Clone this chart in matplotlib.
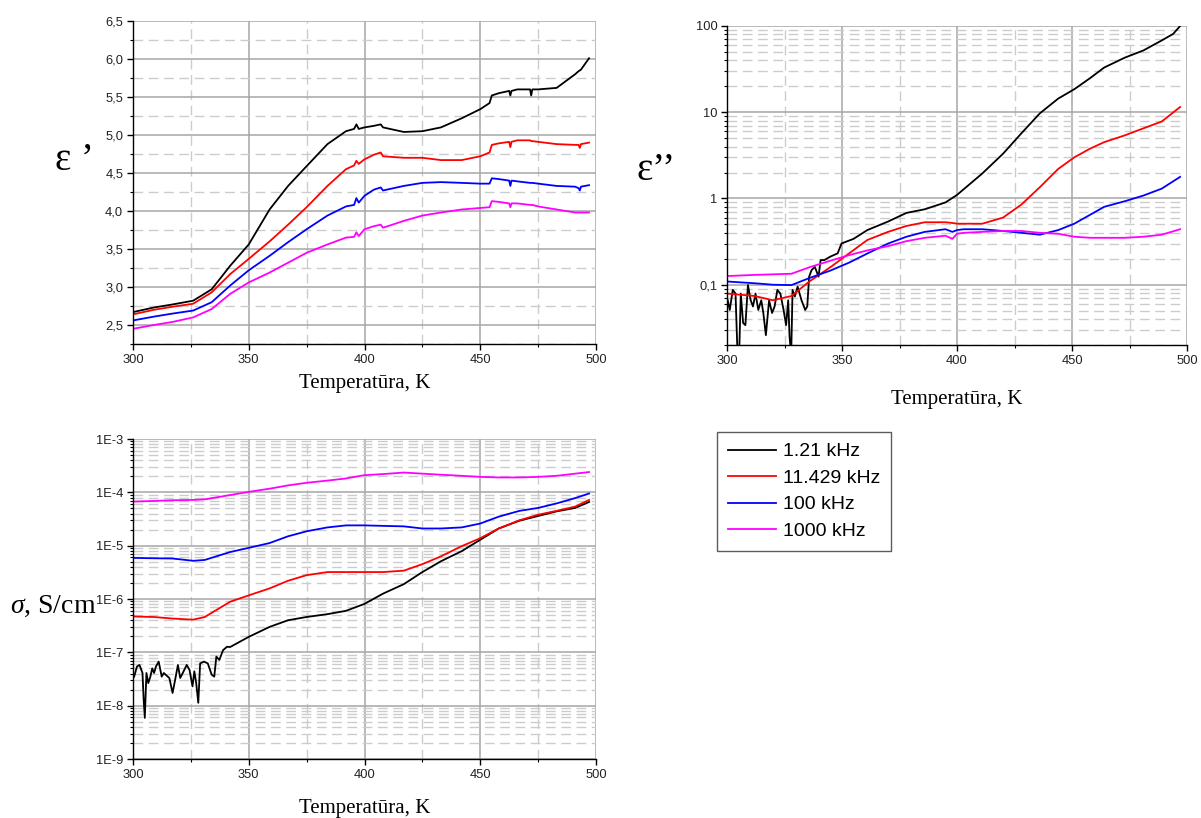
import numpy as np
import matplotlib
matplotlib.use("Agg")
import matplotlib.pyplot as plt
from matplotlib.ticker import MultipleLocator, LogLocator, NullFormatter

plt.rcParams["mathtext.fontset"] = "custom"
plt.rcParams["mathtext.it"] = "Liberation Serif:italic"
plt.rcParams["mathtext.rm"] = "Liberation Serif"

# ---------------- data ----------------
labels = ["1.21 kHz", "11.429 kHz", "100 kHz", "1000 kHz"]
colors = ["#000000", "#ff0000", "#0000ff", "#ff00ff"]

# Panel 1: eps'
T1 = [300, 309, 317, 326, 334, 342, 350, 359, 367, 375, 384, 392, 395.5, 396.5, 397.5, 400, 404, 407, 408,
      417, 425, 433, 442, 450, 454, 455, 458, 462.5, 463, 463.5, 466, 471.5, 472, 472.5, 475, 483, 491,
      492.5, 493, 493.5, 497]
eps1_black = [2.67, 2.73, 2.77, 2.82, 2.97, 3.28, 3.56, 4.02, 4.33, 4.59, 4.88, 5.05, 5.08, 5.14, 5.08, 5.10,
              5.12, 5.14, 5.10, 5.04, 5.05, 5.10, 5.22, 5.34, 5.42, 5.52, 5.55, 5.58, 5.52, 5.58, 5.60, 5.60,
              5.52, 5.60, 5.60, 5.62, 5.80, 5.84, 5.85, 5.86, 6.01]
eps1_red = [2.64, 2.70, 2.74, 2.78, 2.93, 3.17, 3.37, 3.60, 3.82, 4.05, 4.33, 4.55, 4.60, 4.66, 4.62, 4.68,
            4.74, 4.77, 4.72, 4.70, 4.70, 4.67, 4.67, 4.72, 4.77, 4.87, 4.89, 4.91, 4.84, 4.91, 4.93, 4.93,
            4.92, 4.92, 4.91, 4.88, 4.87, 4.87, 4.83, 4.88, 4.90]
eps1_blue = [2.56, 2.61, 2.65, 2.69, 2.80, 3.02, 3.22, 3.41, 3.59, 3.76, 3.94, 4.06, 4.08, 4.17, 4.11, 4.20,
             4.28, 4.31, 4.27, 4.33, 4.37, 4.38, 4.37, 4.36, 4.36, 4.43, 4.42, 4.40, 4.33, 4.40, 4.39, 4.37,
             4.37, 4.37, 4.36, 4.33, 4.32, 4.30, 4.27, 4.32, 4.34]
eps1_mag = [2.45, 2.50, 2.54, 2.60, 2.71, 2.91, 3.06, 3.19, 3.32, 3.45, 3.56, 3.65, 3.66, 3.72, 3.67, 3.76,
            3.80, 3.82, 3.78, 3.87, 3.94, 3.98, 4.02, 4.04, 4.05, 4.13, 4.12, 4.10, 4.05, 4.10, 4.10, 4.08,
            4.08, 4.08, 4.06, 4.02, 3.98, 3.98, 3.98, 3.98, 3.98]

# Panel 2: eps''
T2_black = [300.3, 301.2, 302.5, 303.7, 304.6, 305.3, 306.0, 307.0, 308.0, 309.1, 310.3, 311.3, 312.4, 313.6,
            314.9, 315.8, 316.9, 318.3, 319.6, 320.7, 321.9, 323.2, 324.6, 325.7, 326.6, 327.2, 327.9, 328.5,
            329.5, 330.7, 332.4, 334.0, 334.9, 335.7, 336.8, 338.2, 339.8, 340.7, 342.3, 344.8, 348.1, 349.8,
            355, 361, 370, 378, 386, 395, 400, 411, 420, 428, 436, 444, 451, 458, 464, 473, 481, 489, 494, 497]
eps2_black = [0.066, 0.051, 0.087, 0.079, 0.015, 0.016, 0.079, 0.036, 0.034, 0.099, 0.066, 0.056, 0.079, 0.051,
              0.066, 0.047, 0.026, 0.066, 0.047, 0.056, 0.087, 0.079, 0.051, 0.034, 0.066, 0.025, 0.015, 0.087,
              0.073, 0.095, 0.066, 0.051, 0.056, 0.124, 0.148, 0.161, 0.124, 0.193, 0.193, 0.211, 0.231, 0.301,
              0.34, 0.43, 0.54, 0.68, 0.75, 0.90, 1.1, 1.95, 3.3, 5.7, 9.7, 14.4, 18.5, 25, 33, 43, 52, 68, 81, 100]
T2 = [300, 312, 320, 328, 336, 345, 353, 361, 370, 378, 386, 395, 398, 400, 403, 411, 420, 428, 436, 444, 451,
      458, 464, 473, 481, 489, 497]
eps2_red = [0.079, 0.074, 0.066, 0.074, 0.11, 0.16, 0.23, 0.33, 0.41, 0.48, 0.53, 0.53, 0.52, 0.51, 0.51, 0.51,
            0.60, 0.85, 1.35, 2.2, 3.0, 3.8, 4.5, 5.4, 6.5, 7.8, 11.5]
eps2_blue = [0.109, 0.104, 0.100, 0.099, 0.12, 0.146, 0.18, 0.23, 0.30, 0.36, 0.41, 0.44, 0.41, 0.43, 0.44,
             0.44, 0.42, 0.40, 0.38, 0.43, 0.51, 0.65, 0.80, 0.93, 1.08, 1.30, 1.78]
eps2_mag = [0.126, 0.130, 0.132, 0.134, 0.16, 0.19, 0.22, 0.25, 0.28, 0.32, 0.35, 0.37, 0.34, 0.39, 0.40,
            0.41, 0.42, 0.42, 0.40, 0.39, 0.36, 0.35, 0.35, 0.35, 0.36, 0.38, 0.44]

# Panel 3: sigma, S/cm
T3_black = [300.5, 301.7, 302.8, 304.1, 304.6, 305.1, 305.8, 306.6, 307.5, 308.3, 309.1, 309.9, 311.1, 312.4,
            313.3, 314.1, 315.7, 317.1, 318.2, 319.4, 320.4, 321.5, 323.2, 324.4, 325.7, 326.5, 327.3, 328.2,
            329.0, 330.7, 332.3, 334.0, 335.1, 336.0, 337.3, 338.9, 340.6,
            342, 350, 359, 367, 375, 384, 392, 400, 408, 417, 425, 433, 442, 450, 458, 467, 475, 483, 491, 497]
sig_black = [3.5e-8, 5.4e-8, 5.8e-8, 4.1e-8, 1.3e-8, 5.9e-9, 4.1e-8, 2.65e-8, 3.5e-8, 5.0e-8, 4.1e-8, 5.4e-8,
             6.7e-8, 3.5e-8, 4.1e-8, 3.8e-8, 3.3e-8, 1.73e-8, 3.05e-8, 5.8e-8, 3.3e-8, 4.1e-8, 5.8e-8, 4.7e-8,
             2.3e-8, 4.4e-8, 2.65e-8, 1.13e-8, 6.2e-8, 6.7e-8, 6.2e-8, 3.8e-8, 3.5e-8, 8.3e-8, 7.2e-8, 1.1e-7,
             1.27e-7,
             1.26e-7, 1.95e-7, 3.0e-7, 4.0e-7, 4.6e-7, 5.2e-7, 6.0e-7, 8.1e-7, 1.26e-6, 1.9e-6, 3.2e-6, 5.1e-6,
             7.9e-6, 1.29e-5, 2.1e-5, 2.95e-5, 3.6e-5, 4.4e-5, 5.1e-5, 6.6e-5]
T3 = [300, 309, 317, 326, 331, 342, 350, 359, 367, 375, 384, 392, 400, 408, 417, 425, 433, 442, 450, 458, 467,
      475, 483, 491, 497]
sig_red = [4.7e-7, 4.6e-7, 4.3e-7, 4.1e-7, 4.6e-7, 8.9e-7, 1.17e-6, 1.58e-6, 2.2e-6, 2.8e-6, 3.2e-6, 3.2e-6,
           3.2e-6, 3.2e-6, 3.4e-6, 4.5e-6, 6.3e-6, 9.8e-6, 1.38e-5, 2.1e-5, 3.0e-5, 3.8e-5, 4.5e-5, 5.4e-5, 7.2e-5]
sig_blue = [5.9e-6, 5.8e-6, 5.75e-6, 5.2e-6, 5.4e-6, 7.6e-6, 9.1e-6, 1.12e-5, 1.5e-5, 1.86e-5, 2.2e-5, 2.4e-5,
            2.4e-5, 2.35e-5, 2.3e-5, 2.1e-5, 2.1e-5, 2.2e-5, 2.6e-5, 3.5e-5, 4.5e-5, 5.1e-5, 6.2e-5, 7.8e-5, 9.5e-5]
sig_mag = [6.7e-5, 6.9e-5, 7.1e-5, 7.2e-5, 7.4e-5, 8.9e-5, 1.02e-4, 1.17e-4, 1.35e-4, 1.51e-4, 1.66e-4, 1.82e-4,
           2.1e-4, 2.2e-4, 2.35e-4, 2.24e-4, 2.14e-4, 2.04e-4, 1.95e-4, 1.9e-4, 1.9e-4, 1.95e-4, 2.04e-4,
           2.24e-4, 2.4e-4]

xticks = [300, 350, 400, 450, 500]
xticklabels = ["300", "350", "400", "450", "500"]
yticks1 = [2.5, 3.0, 3.5, 4.0, 4.5, 5.0, 5.5, 6.0, 6.5]
yticklabels1 = ["2,5", "3,0", "3,5", "4,0", "4,5", "5,0", "5,5", "6,0", "6,5"]
yticks2 = [0.1, 1, 10, 100]
yticklabels2 = ["0,1", "1", "10", "100"]
yticks3 = [1e-9, 1e-8, 1e-7, 1e-6, 1e-5, 1e-4, 1e-3]
yticklabels3 = ["1E-9", "1E-8", "1E-7", "1E-6", "1E-5", "1E-4", "1E-3"]

xlabel = "Temperatūra, K"

# ---------------- drawing ----------------
W, H = 1201, 818
fig = plt.figure(figsize=(W / 100, H / 100), dpi=100)

def rect(l, r, t, b):
    return [l / W, 1 - b / H, (r - l) / W, (b - t) / H]

ax1 = fig.add_axes(rect(133, 596, 21, 344))
ax2 = fig.add_axes(rect(727, 1187, 26, 345))
ax3 = fig.add_axes(rect(133, 596, 439, 759))

tick_font = dict(family="Liberation Sans", size=9.3, color="#222222")
serif = "Liberation Serif"

def style(ax, labelpad):
    for s in ["top", "right"]:
        ax.spines[s].set_visible(False)
    for s in ["left", "bottom"]:
        ax.spines[s].set_linewidth(1.0)
        ax.spines[s].set_color("#000000")
    ax.set_xlim(300, 500)
    ax.set_xticks(xticks)
    ax.set_xticklabels(xticklabels, fontdict=tick_font)
    ax.xaxis.set_minor_locator(MultipleLocator(25))
    ax.grid(True, which="major", color="#a6a6a6", linestyle="-", linewidth=1.1)
    ax.grid(True, which="minor", color="#cccccc", linestyle=(0, (7, 4)), linewidth=1.0)
    ax.tick_params(which="major", direction="out", length=4, width=1, pad=3)
    ax.tick_params(which="minor", direction="out", length=2.5, width=0.8)
    ax.set_axisbelow(True)
    ax.set_xlabel(xlabel, family=serif, fontsize=15, labelpad=labelpad)

def plot_all(ax, series):
    for (t, v), c, lab in zip(series, colors, labels):
        ax.plot(t, v, color=c, lw=1.3, label=lab)

# Panel 1
plot_all(ax1, [(T1, eps1_black), (T1, eps1_red), (T1, eps1_blue), (T1, eps1_mag)])
style(ax1, 6)
ax1.set_ylim(2.25, 6.5)
ax1.set_yticks(yticks1)
ax1.set_yticklabels(yticklabels1, fontdict=tick_font)
ax1.yaxis.set_minor_locator(MultipleLocator(0.25))

# Panel 2
plot_all(ax2, [(T2_black, eps2_black), (T2, eps2_red), (T2, eps2_blue), (T2, eps2_mag)])
ax2.set_yscale("log")
style(ax2, 17)
ax2.set_ylim(0.02, 100)
ax2.set_yticks(yticks2)
ax2.set_yticklabels(yticklabels2, fontdict=tick_font)
ax2.yaxis.set_minor_locator(LogLocator(base=10, subs=np.arange(2, 10), numticks=20))
ax2.yaxis.set_minor_formatter(NullFormatter())

# Panel 3
plot_all(ax3, [(T3_black, sig_black), (T3, sig_red), (T3, sig_blue), (T3, sig_mag)])
ax3.set_yscale("log")
style(ax3, 13)
ax3.set_ylim(1e-9, 1e-3)
ax3.set_yticks(yticks3)
ax3.set_yticklabels(yticklabels3, fontdict=tick_font)
ax3.yaxis.set_minor_locator(LogLocator(base=10, subs=np.arange(2, 10), numticks=20))
ax3.yaxis.set_minor_formatter(NullFormatter())

# y-labels (horizontal)
fig.text(74 / W, 1 - 160 / H, "ε ’", family=serif, fontsize=28, ha="center", va="center")
fig.text(656 / W, 1 - 170 / H, "ε’’", family=serif, fontsize=28, ha="center", va="center")
fig.text(10 / W, 1 - 606 / H, r"$\mathit{\sigma}$, S/cm", family=serif, fontsize=20, ha="left", va="center")

# Legend
handles, labs = ax1.get_legend_handles_labels()
leg = fig.legend(handles, labs, loc="upper left", bbox_to_anchor=(717 / W, 1 - 432 / H),
                 prop=dict(family="Liberation Sans", size=14), frameon=True, fancybox=False,
                 handlelength=2.5, handletextpad=0.35, labelspacing=0.46, borderpad=0.55,
                 borderaxespad=0)
leg.get_frame().set_edgecolor("#333333")
leg.get_frame().set_linewidth(1.0)

fig.savefig("out.png", dpi=100)
